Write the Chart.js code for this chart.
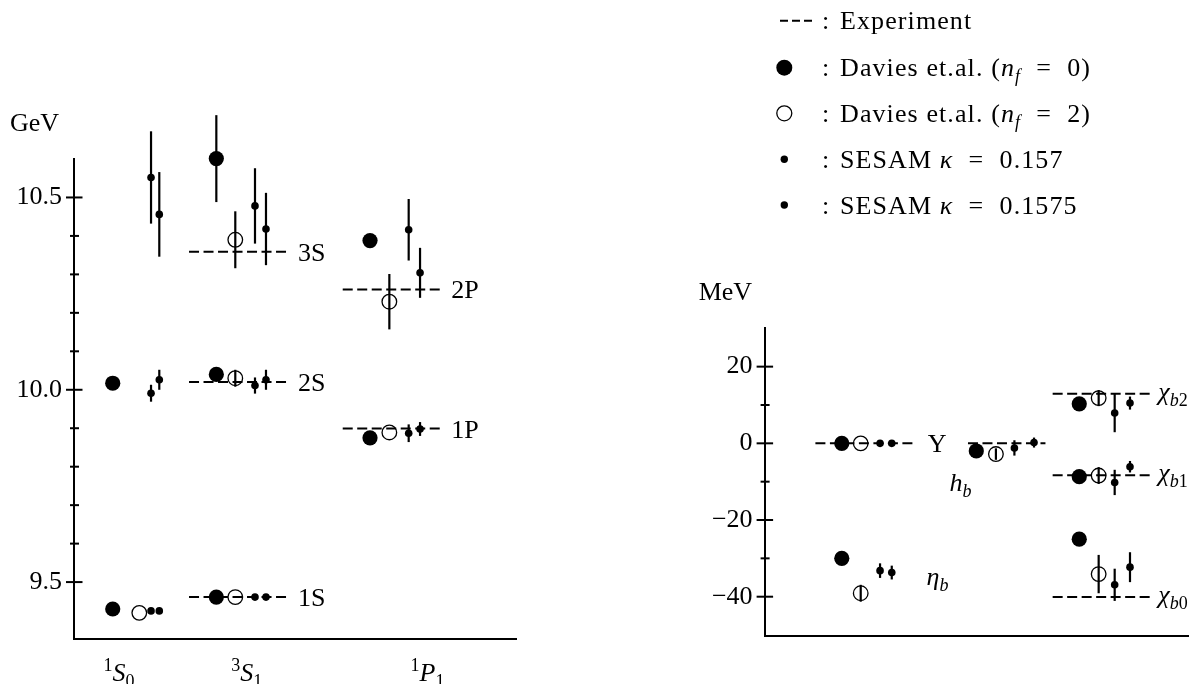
<!DOCTYPE html>
<html>
<head>
<meta charset="utf-8">
<script src="https://cdn.jsdelivr.net/npm/chart.js@4"></script>
<style>
  html, body { margin: 0; padding: 0; background: #fff; }
  .panel { position: absolute; left: 0; top: 0; width: 1198px; height: 684px; }
</style>
</head>
<body>
<div class="panel"><canvas id="gev"></canvas></div>
<div class="panel"><canvas id="mev"></canvas></div>
<script>
// ---- data: bottomonium spectrum, left panel in GeV (columns 1S0, 3S1, 1P1) ----
const gevCategories = [
  [['1', 'sup'], ['S', 'i'], ['0', 'sub']],
  [['3', 'sup'], ['S', 'i'], ['1', 'sub']],
  [['1', 'sup'], ['P', 'i'], ['1', 'sub']]
];
const gevLevels = [[], ['1S', '2S', '3S'], ['1P', '2P']];
const gevTicks = [9.5, 10.0, 10.5];
const gevMinor = [9.6, 9.7, 9.8, 9.9, 10.1, 10.2, 10.3, 10.4];

const expGeV     = [[null, null, null], [9.461, 10.020, 10.359], [9.899, 10.261]];
const dav0GeV    = [[9.430, 10.017, null], [9.461, 10.040, 10.601], [9.875, 10.388]];
const dav0GeVErr = [[0, 0, 0], [0, 0, 0.113], [0, 0]];
const dav2GeV    = [[9.420, null, null], [9.461, 10.030, 10.390], [9.889, 10.229]];
const dav2GeVErr = [[0, 0, 0], [0, 0.022, 0.074], [0, 0.072]];
const ses1GeV    = [[9.425, 9.991, 10.552], [9.461, 10.011, 10.478], [9.887, 10.416]];
const ses1GeVErr = [[0, 0.022, 0.12], [0, 0.021, 0.098], [0.023, 0.080]];
const ses2GeV    = [[9.425, 10.026, 10.456], [9.461, 10.026, 10.418], [9.898, 10.304]];
const ses2GeVErr = [[0, 0.026, 0.11], [0, 0.026, 0.094], [0.018, 0.065]];

// ---- data: splittings in MeV (columns Upsilon/eta_b, h_b, chi_b) ----
const mevTicks = [-40, -20, 0, 20];
const mevMinor = [-30, -10, 10];

const expMeV     = [[0, null], [0], [12.9, -8.3, -40.1]];
const dav0MeV    = [[0, -30.0], [-2.0], [10.3, -8.7, -25.0]];
const dav0MeVErr = [[0, 0], [0], [0, 0, 0]];
const dav2MeV    = [[0, -39.1], [-2.8], [11.8, -8.4, -34.1]];
const dav2MeVErr = [[0, 2.2], [1.5], [2.1, 2.2, 5.0]];
const ses1MeV    = [[0, -33.2], [-1.2], [7.9, -10.2, -36.9]];
const ses1MeVErr = [[0, 1.9], [2.0], [5.0, 3.3, 4.2]];
const ses2MeV    = [[0, -33.7], [0.2], [10.5, -6.1, -32.3]];
const ses2MeVErr = [[0, 1.8], [1.3], [1.7, 1.5, 3.9]];

const seriesNames = [
  [['Experiment', 'r']],
  [['Davies et.al. (', 'r'], ['n', 'i'], ['f', 'isub'], ['  =  0)', 'r']],
  [['Davies et.al. (', 'r'], ['n', 'i'], ['f', 'isub'], ['  =  2)', 'r']],
  [['SESAM ', 'r'], ['κ', 'i'], ['  =  0.157', 'r']],
  [['SESAM ', 'r'], ['κ', 'i'], ['  =  0.1575', 'r']]
];

// ---- layout (x positions in axis units, not data) ----
const gevLayout = [
  { slots: [0.525, 0.885, 1.044, 1.156], label: 0.61 },
  { slots: [1.929, 2.186, 2.453, 2.602], dash: [1.559, 2.928], label: 2.341 },
  { slots: [4.012, 4.274, 4.536, 4.690], dash: [3.642, 5.005], label: 4.791 }
];
const mevLayout = [
  { slots: [1.094, 1.362, 1.636, 1.802], dash: [0.720, 2.143] },
  { slots: [3.000, 3.278, 3.540, 3.818], dash: [2.882, 3.980] },
  { slots: [4.459, 4.734, 4.961, 5.178], dash: [4.082, 5.508] }
];

const FAMILY = "'Liberation Serif', 'Times New Roman', serif";
const marks = [
  { r: 7.6, bg: '#000', bw: 0 },
  { r: 7.3, bg: 'rgba(0,0,0,0)', bw: 1.3 },
  { r: 3.8, bg: '#000', bw: 0 },
  { r: 3.8, bg: '#000', bw: 0 }
];

function fontOf(kind) {
  const small = kind === 'sup' || kind === 'sub' || kind === 'isub';
  const ital = kind === 'i' || kind === 'isub';
  return (ital ? 'italic ' : '') + (small ? 18 : 26) + 'px ' + FAMILY;
}
function shiftOf(kind) {
  if (kind === 'sup') return -10;
  if (kind === 'sub' || kind === 'isub') return 6;
  return 0;
}
function richText(ctx, parts, x, y, align, spacing) {
  ctx.letterSpacing = (spacing || 0) + 'px';
  let w = 0;
  parts.forEach(p => { ctx.font = fontOf(p[1]); w += ctx.measureText(p[0]).width; });
  let cx = align === 'center' ? x - w / 2 : x;
  ctx.textAlign = 'left';
  ctx.textBaseline = 'alphabetic';
  ctx.fillStyle = '#000';
  parts.forEach(p => {
    ctx.font = fontOf(p[1]);
    ctx.fillText(p[0], cx, y + shiftOf(p[1]));
    cx += ctx.measureText(p[0]).width;
  });
  ctx.letterSpacing = '0px';
}

function points(values, errs, slot, layout) {
  const out = [];
  values.forEach((col, c) => col.forEach((v, r) => {
    if (v !== null) out.push({ x: layout[c].slots[slot], y: v, e: errs[c][r] });
  }));
  return out;
}
function dashes(values, layout) {
  const out = [];
  values.forEach((col, c) => col.forEach(v => {
    if (v === null) return;
    const d = layout[c].dash;
    out.push({ x: d[0], y: v }, { x: d[1], y: v }, { x: d[1], y: null });
  }));
  return out;
}
function datasets(exp, series, layout) {
  const sets = [{
    type: 'line', data: dashes(exp, layout), borderColor: '#000', borderWidth: 2,
    borderDash: [10, 4.5], pointRadius: 0, spanGaps: false, fill: false, order: 10, clip: false
  }];
  series.forEach((s, i) => sets.push({
    type: 'scatter', data: points(s[0], s[1], i, layout), order: i, clip: false,
    pointRadius: marks[i].r, pointBackgroundColor: marks[i].bg,
    pointBorderColor: '#000', pointBorderWidth: marks[i].bw, pointHoverRadius: marks[i].r
  }));
  return sets;
}

const decor = {
  id: 'decor',
  afterDatasetsDraw(chart) {
    const ctx = chart.ctx, xs = chart.scales.x, ys = chart.scales.y;
    ctx.save();
    ctx.strokeStyle = '#000';
    ctx.lineWidth = 2.2;
    chart.data.datasets.forEach(ds => {
      if (ds.type === 'line') return;
      ds.data.forEach(p => {
        if (!p.e) return;
        const px = xs.getPixelForValue(p.x);
        ctx.beginPath();
        ctx.moveTo(px, ys.getPixelForValue(p.y + p.e));
        ctx.lineTo(px, ys.getPixelForValue(p.y - p.e));
        ctx.stroke();
      });
    });
    ctx.restore();
  },
  afterDraw(chart, args, o) {
    const ctx = chart.ctx, xs = chart.scales.x, ys = chart.scales.y;
    const ax = chart.chartArea.left;
    ctx.save();
    ctx.strokeStyle = '#000';
    ctx.lineWidth = 2;
    o.major.forEach(v => {
      const py = ys.getPixelForValue(v);
      ctx.beginPath(); ctx.moveTo(ax - 8, py); ctx.lineTo(ax + 8.5, py); ctx.stroke();
    });
    o.minor.forEach(v => {
      const py = ys.getPixelForValue(v);
      ctx.beginPath(); ctx.moveTo(ax - 4, py); ctx.lineTo(ax + 5, py); ctx.stroke();
    });
    richText(ctx, [[o.unit, 'r']], o.unitPos[0], o.unitPos[1], 'left');
    (o.xLabels || []).forEach(l => richText(ctx, l.parts, xs.getPixelForValue(l.x), 681, 'center'));
    (o.levelLabels || []).forEach(l =>
      richText(ctx, l.parts, xs.getPixelForValue(l.x) + (l.dx || 0), ys.getPixelForValue(l.y) + l.dy, 'left'));
    if (o.legend) drawLegend(ctx);
    ctx.restore();
  }
};

function drawLegend(ctx) {
  const rows = [20.7, 67.7, 113.3, 159.3, 205];
  ctx.strokeStyle = '#000';
  ctx.fillStyle = '#000';
  ctx.lineWidth = 2;
  ctx.setLineDash([8, 4]);
  ctx.beginPath(); ctx.moveTo(780, rows[0]); ctx.lineTo(812, rows[0]); ctx.stroke();
  ctx.setLineDash([]);
  [1, 2, 3, 4].forEach(i => {
    ctx.beginPath();
    ctx.arc(784.3, rows[i], i === 1 ? 8 : (i === 2 ? 7.5 : 3.7), 0, Math.PI * 2);
    if (i === 2) { ctx.lineWidth = 1.3; ctx.stroke(); } else { ctx.fill(); }
  });
  seriesNames.forEach((parts, i) => {
    richText(ctx, [[':', 'r']], 822, rows[i] + 8.5, 'left');
    richText(ctx, parts, 840, rows[i] + 8.5, 'left', 1.1);
  });
}

function makeChart(id, sets, yMin, yMax, pad, scaleW, scaleH, fmt, decorOpts) {
  return new Chart(document.getElementById(id), {
    type: 'scatter',
    data: { datasets: sets },
    options: {
      responsive: true, maintainAspectRatio: false, animation: false, events: [],
      layout: { padding: pad },
      plugins: { legend: { display: false }, tooltip: { enabled: false }, decor: decorOpts },
      scales: {
        x: {
          type: 'linear', min: 0, max: 6,
          grid: { display: false, drawTicks: false },
          border: { display: true, color: '#000', width: 2 },
          ticks: { display: false },
          afterFit: s => { s.height = scaleH; }
        },
        y: {
          type: 'linear', min: yMin, max: yMax,
          grid: { display: false, drawTicks: false },
          border: { display: true, color: '#000', width: 2 },
          afterBuildTicks: s => { s.ticks = decorOpts.major.map(v => ({ value: v })); },
          ticks: { color: '#000', padding: 12, font: { family: FAMILY, size: 26 }, callback: fmt },
          afterFit: s => { s.width = scaleW; }
        }
      }
    },
    plugins: [decor]
  });
}

// left panel
const gevLevelLabels = [];
[1, 2].forEach(c => gevLevels[c].forEach((name, r) => gevLevelLabels.push({
  x: gevLayout[c].dash[1], dx: 8, y: expGeV[c][r], dy: 9, parts: [[name, 'r']]
})));
makeChart('gev',
  datasets(expGeV, [[dav0GeV, dav0GeVErr], [dav2GeV, dav2GeVErr], [ses1GeV, ses1GeVErr], [ses2GeV, ses2GeVErr]], gevLayout),
  9.352, 10.6, { left: 0, top: 159, right: 681.3, bottom: 0 }, 74, 45,
  v => v.toFixed(1),
  {
    major: gevTicks, minor: gevMinor, unit: 'GeV', unitPos: [10, 130.5],
    xLabels: gevCategories.map((parts, c) => ({ x: gevLayout[c].label, parts })),
    levelLabels: gevLevelLabels
  });

// right panel
const mevLevelLabels = [
  { x: mevLayout[0].dash[1], dx: 12, y: expMeV[0][0], dy: 9, parts: [['Υ', 'r']] },
  { x: 2.294, y: -36.9, dy: 0, parts: [['η', 'i'], ['b', 'isub']] },
  { x: 2.62, y: -12.4, dy: 0, parts: [['h', 'i'], ['b', 'isub']] },
  { x: mevLayout[2].dash[1], dx: 5, y: expMeV[2][0], dy: 6, parts: [['χ', 'i'], ['b', 'isub'], ['2', 'sub']] },
  { x: mevLayout[2].dash[1], dx: 5, y: expMeV[2][1], dy: 6, parts: [['χ', 'i'], ['b', 'isub'], ['1', 'sub']] },
  { x: mevLayout[2].dash[1], dx: 5, y: expMeV[2][2], dy: 6, parts: [['χ', 'i'], ['b', 'isub'], ['0', 'sub']] }
];
makeChart('mev',
  datasets(expMeV, [[dav0MeV, dav0MeVErr], [dav2MeV, dav2MeVErr], [ses1MeV, ses1MeVErr], [ses2MeV, ses2MeVErr]], mevLayout),
  -50.25, 30, { left: 0, top: 328.3, right: 10, bottom: 0 }, 764.6, 48,
  v => (v < 0 ? '\u2212' + Math.abs(v) : String(v)),
  {
    major: mevTicks, minor: mevMinor, unit: 'MeV', unitPos: [698.7, 299.5],
    levelLabels: mevLevelLabels, legend: true
  });
</script>
</body>
</html>
